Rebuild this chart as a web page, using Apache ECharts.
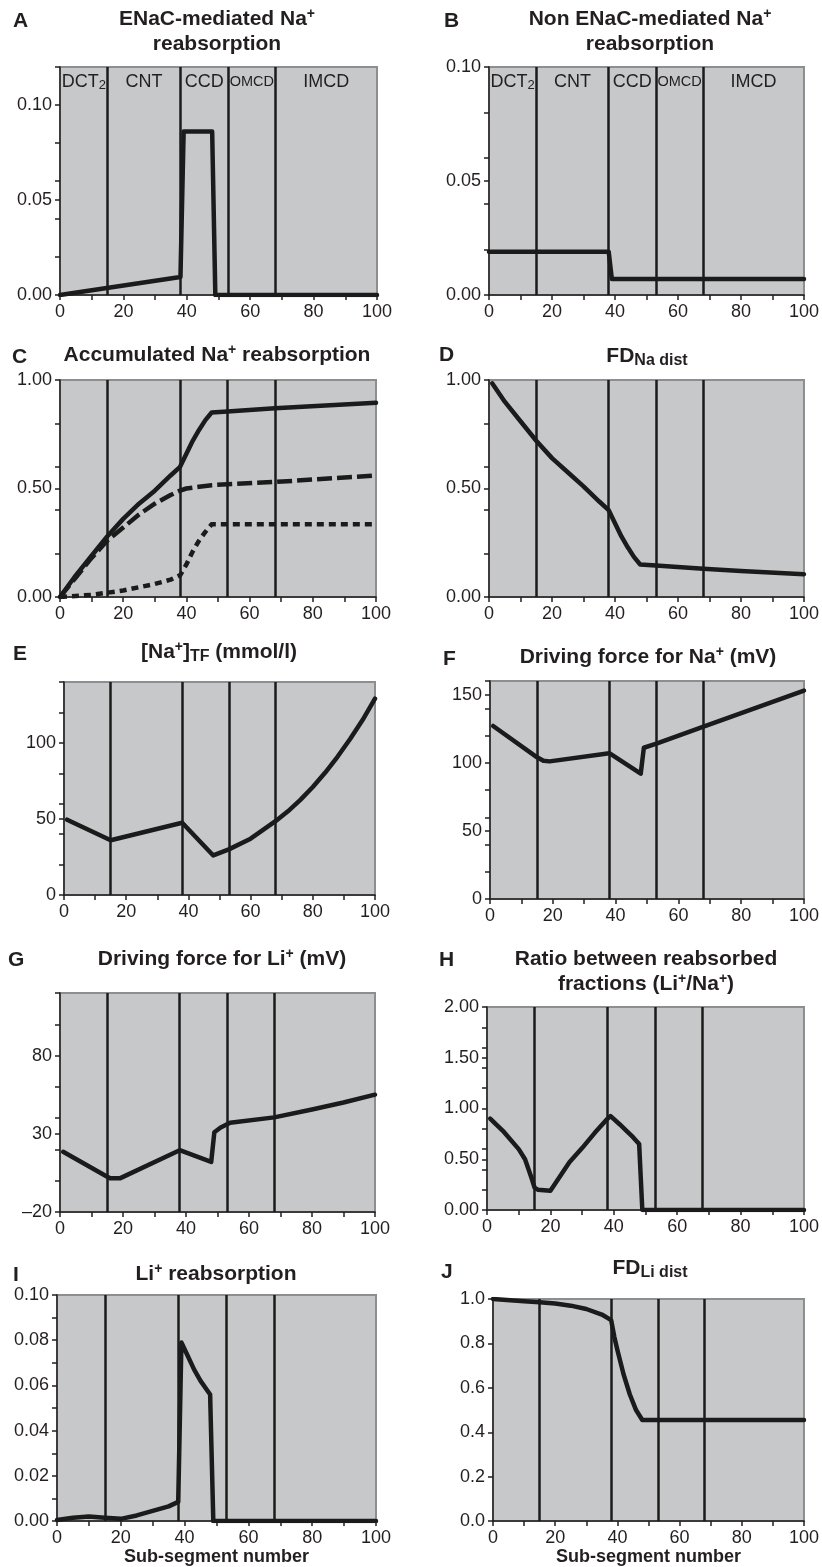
<!DOCTYPE html>
<html>
<head>
<meta charset="utf-8">
<title>Na+ and Li+ handling along the distal nephron</title>
<script src="https://cdn.jsdelivr.net/npm/echarts@6/dist/echarts.min.js"></script>
<style>
html,body{margin:0;padding:0;background:#fff;}
#J_Main{width:822px;height:1567px;}
</style>
</head>
<body>
<div id="J_Main"></div>
<script>
var FONT = "'Liberation Sans', Arial, Helvetica, sans-serif";
var INK = '#231f20';

// segment borders (sub-segment number) and segment names
var segmentBounds = [15, 38, 53, 68];
var segmentNames = ['DCT{s|2}', 'CNT', 'CCD', '{n|OMCD}', 'IMCD'];
var xTickValues = [0, 10, 20, 30, 40, 50, 60, 70, 80, 90, 100];
var xLabelValues = [0, 20, 40, 60, 80, 100];

// A - ENaC-mediated Na+ reabsorption
var enacNa = [[0, 0], [38, 0.0095], [39, 0.086], [48, 0.086], [49, 0], [100, 0]];
var aYLabels = [0, 0.05, 0.10];
var aYTicks = [0, 0.02, 0.04, 0.05, 0.06, 0.08, 0.10, 0.12];

// B - non ENaC-mediated Na+ reabsorption
var nonEnacNa = [[0, 0.019], [38, 0.019], [39, 0.007], [100, 0.007]];
var bYLabels = [0, 0.05, 0.10];
var bYTicks = [0, 0.02, 0.04, 0.05, 0.06, 0.08, 0.10];

// C - accumulated Na+ reabsorption (total, non ENaC, ENaC)
var accNaTotal = [[0, 0], [5, 0.10], [10, 0.19], [15, 0.28], [20, 0.36], [25, 0.43], [30, 0.49], [35, 0.56], [38, 0.60], [40, 0.66], [42, 0.72], [44, 0.77], [46, 0.815], [48, 0.85], [53, 0.855], [68, 0.87], [100, 0.895]];
var accNaNonEnac = [[0, 0], [5, 0.09], [10, 0.18], [15, 0.26], [20, 0.32], [25, 0.38], [30, 0.43], [35, 0.47], [38, 0.49], [40, 0.50], [44, 0.508], [48, 0.515], [53, 0.52], [68, 0.53], [100, 0.56]];
var accNaEnac = [[0, 0], [10, 0.01], [15, 0.02], [20, 0.03], [25, 0.045], [30, 0.06], [35, 0.08], [38, 0.10], [40, 0.15], [42, 0.21], [44, 0.26], [46, 0.30], [48, 0.335], [100, 0.335]];
var cYLabels = [0, 0.5, 1];
var cYTicks = [0, 0.2, 0.4, 0.5, 0.6, 0.8, 1];

// D - FD Na dist
var fdNaDist = [[1, 0.985], [5, 0.90], [10, 0.81], [15, 0.72], [20, 0.64], [25, 0.575], [30, 0.51], [35, 0.44], [38, 0.40], [40, 0.34], [42, 0.28], [44, 0.23], [46, 0.185], [48, 0.15], [53, 0.145], [68, 0.13], [80, 0.12], [100, 0.105]];
var dYLabels = [0, 0.5, 1];
var dYTicks = [0, 0.2, 0.4, 0.5, 0.6, 0.8, 1];

// E - [Na+] in tubular fluid (mmol/l)
var naTF = [[1, 49.5], [15, 36], [38, 47.5], [48, 26], [53, 30], [60, 37], [68, 48.5], [72, 55], [76, 62.5], [80, 71], [84, 80.5], [88, 91], [92, 102.5], [96, 115], [100, 129]];
var eYLabels = [0, 50, 100];
var eYTicks = [0, 20, 40, 50, 60, 80, 100, 120, 140];

// F - driving force for Na+ (mV)
var dfNa = [[1, 127], [15, 104], [17, 101.5], [19, 101], [38, 107], [48, 92], [49, 111], [53, 114], [68, 126.5], [100, 153]];
var fYLabels = [0, 50, 100, 150];
var fYTicks = [0, 20, 40, 50, 60, 80, 100, 120, 140, 150, 160];

// G - driving force for Li+ (mV)
var dfLi = [[1, 18.5], [15, 2.5], [16, 1.5], [19, 1.5], [38, 19.5], [48, 12], [49, 31], [51, 34], [54, 37], [68, 40.5], [80, 45.5], [90, 50], [100, 55]];
var gYLabels = [-20, 30, 80];
var gYTicks = [-20, 0, 20, 30, 40, 60, 80, 100, 120];

// H - ratio between reabsorbed fractions (Li+/Na+)
var liNaRatio = [[1, 0.90], [5, 0.78], [10, 0.60], [12, 0.50], [14, 0.32], [15, 0.22], [16, 0.20], [20, 0.19], [23, 0.33], [26, 0.47], [30, 0.61], [34, 0.76], [38, 0.90], [39, 0.925], [42, 0.84], [44, 0.78], [46, 0.72], [48, 0.65], [49, 0], [100, 0]];
var hYLabels = [0, 0.5, 1, 1.5, 2];
var hYTicks = [0, 0.2, 0.4, 0.5, 0.6, 0.8, 1, 1.2, 1.4, 1.5, 1.6, 1.8, 2];

// I - Li+ reabsorption
var liReab = [[0, 0.0005], [5, 0.0015], [10, 0.002], [15, 0.0015], [20, 0.001], [25, 0.0025], [30, 0.0045], [35, 0.0065], [38, 0.0085], [39, 0.079], [41, 0.073], [43, 0.067], [45, 0.062], [48, 0.056], [49, 0], [100, 0]];
var iYLabels = [0, 0.02, 0.04, 0.06, 0.08, 0.10];
var iYTicks = [0, 0.01, 0.02, 0.03, 0.04, 0.05, 0.06, 0.07, 0.08, 0.09, 0.10];

// J - FD Li dist
var fdLiDist = [[0, 1.0], [10, 0.99], [15, 0.985], [20, 0.98], [25, 0.97], [30, 0.955], [35, 0.93], [38, 0.905], [39, 0.83], [40, 0.77], [42, 0.66], [44, 0.57], [46, 0.50], [48, 0.455], [100, 0.455]];
var jYLabels = [0, 0.2, 0.4, 0.6, 0.8, 1];
var jYTicks = [0, 0.2, 0.4, 0.6, 0.8, 1];

var panels = [
    {tag: 'A', title: 'ENaC-mediated Na{sup|+}\nreabsorption', tx: 217, ty: 7, lx: 13, ly: 10, box: [60, 67, 317, 228], yRange: [0, 0.12], yLabels: aYLabels, yTicks: aYTicks, dec: 2, lines: [{data: enacNa}], named: true},
    {tag: 'B', title: 'Non ENaC-mediated Na{sup|+}\nreabsorption', tx: 650, ty: 7, lx: 444, ly: 10, box: [489, 67, 318, 228], yRange: [0, 0.10], yLabels: bYLabels, yTicks: bYTicks, dec: 2, lines: [{data: nonEnacNa}], named: true},
    {tag: 'C', title: 'Accumulated Na{sup|+} reabsorption', tx: 217, ty: 343, lx: 12, ly: 346, box: [60, 380, 316, 217], yRange: [0, 1], yLabels: cYLabels, yTicks: cYTicks, dec: 2, lines: [{data: accNaTotal}, {data: accNaNonEnac, dash: [15, 5]}, {data: accNaEnac, dash: [7, 5]}]},
    {tag: 'D', title: 'FD{sub|Na dist}', tx: 647, ty: 344, lx: 439, ly: 344, box: [489, 380, 316, 217], yRange: [0, 1], yLabels: dYLabels, yTicks: dYTicks, dec: 2, lines: [{data: fdNaDist}]},
    {tag: 'E', title: '[Na{sup|+}]{sub|TF} (mmol/l)', tx: 219, ty: 640, lx: 13, ly: 643, box: [64, 682, 311, 213], yRange: [0, 140], yLabels: eYLabels, yTicks: eYTicks, dec: 0, lines: [{data: naTF}]},
    {tag: 'F', title: 'Driving force for Na{sup|+} (mV)', tx: 648, ty: 645, lx: 443, ly: 648, box: [490, 681, 315, 218], yRange: [0, 160], yLabels: fYLabels, yTicks: fYTicks, dec: 0, lines: [{data: dfNa}]},
    {tag: 'G', title: 'Driving force for Li{sup|+} (mV)', tx: 222, ty: 947, lx: 8, ly: 949, box: [60, 993, 315, 219], yRange: [-20, 120], yLabels: gYLabels, yTicks: gYTicks, dec: 0, lines: [{data: dfLi}]},
    {tag: 'H', title: 'Ratio between reabsorbed\nfractions (Li{sup|+}/Na{sup|+})', tx: 646, ty: 947, lx: 439, ly: 949, box: [487, 1007, 319, 203], yRange: [0, 2], yLabels: hYLabels, yTicks: hYTicks, dec: 2, lines: [{data: liNaRatio}]},
    {tag: 'I', title: 'Li{sup|+} reabsorption', tx: 216, ty: 1262, lx: 13, ly: 1264, box: [57, 1295, 319, 228], yRange: [0, 0.1], yLabels: iYLabels, yTicks: iYTicks, dec: 2, lines: [{data: liReab}], xName: true},
    {tag: 'J', title: 'FD{sub|Li dist}', tx: 650, ty: 1256, lx: 441, ly: 1261, box: [493, 1299, 315, 224], yRange: [0, 1], yLabels: jYLabels, yTicks: jYTicks, dec: 1, lines: [{data: fdLiDist}], xName: true}
];

var titleRich = {
    sup: {fontSize: 14, fontWeight: 'bold', fontFamily: FONT, color: INK, lineHeight: 14, verticalAlign: 'top'},
    sub: {fontSize: 16, fontWeight: 'bold', fontFamily: FONT, color: INK, lineHeight: 8, verticalAlign: 'bottom'}
};

function segmentAreas() {
    var edges = [0].concat(segmentBounds, [100]);
    return segmentNames.map(function (name, k) {
        return [{name: name, xAxis: edges[k]}, {xAxis: edges[k + 1]}];
    });
}

function buildOption() {
    var grids = [], xAxes = [], yAxes = [], titles = [], series = [];
    panels.forEach(function (p, i) {
        grids.push({
            left: p.box[0], top: p.box[1], width: p.box[2], height: p.box[3],
            show: true, backgroundColor: '#c7c8ca', borderColor: '#8d8e90', borderWidth: 2
        });
        xAxes.push({
            type: 'value', gridIndex: i, min: 0, max: 100,
            axisLine: {show: true, onZero: false, lineStyle: {color: INK, width: 1.5}},
            axisTick: {show: true, length: 5, customValues: xTickValues, lineStyle: {color: INK, width: 1.5}},
            axisLabel: {customValues: xLabelValues, color: INK, fontSize: 18, fontFamily: FONT, margin: 8},
            splitLine: {show: false},
            name: p.xName ? 'Sub-segment number' : '',
            nameLocation: 'middle', nameGap: 25,
            nameTextStyle: {color: INK, fontSize: 18, fontWeight: 'bold', fontFamily: FONT}
        });
        yAxes.push({
            type: 'value', gridIndex: i, min: p.yRange[0], max: p.yRange[1],
            axisLine: {show: true, onZero: false, lineStyle: {color: INK, width: 1.5}},
            axisTick: {show: true, length: 5, customValues: p.yTicks, lineStyle: {color: INK, width: 1.5}},
            axisLabel: {
                customValues: p.yLabels, color: INK, fontSize: 18, fontFamily: FONT, margin: 8,
                formatter: (function (dec) {
                    return function (v) { return v.toFixed(dec).replace('-', '\u2013'); };
                })(p.dec)
            },
            splitLine: {show: false}
        });
        titles.push({
            text: p.title, left: p.tx, top: p.ty, textAlign: 'center', padding: 0,
            textStyle: {fontSize: 21, fontWeight: 'bold', fontFamily: FONT, color: INK, lineHeight: 25, rich: titleRich}
        });
        titles.push({
            text: p.tag, left: p.lx, top: p.ly, padding: 0,
            textStyle: {fontSize: 21, fontWeight: 'bold', fontFamily: FONT, color: INK, lineHeight: 22}
        });
        p.lines.forEach(function (ln, j) {
            var s = {
                type: 'line', xAxisIndex: i, yAxisIndex: i, data: ln.data,
                symbol: 'none', silent: true, animation: false, z: 3,
                lineStyle: {color: '#1b1b1b', width: 4.5, type: ln.dash || 'solid', cap: ln.dash ? 'butt' : 'round', join: 'round'}
            };
            if (j === 0) {
                s.markLine = {
                    silent: true, animation: false, symbol: ['none', 'none'],
                    label: {show: false},
                    lineStyle: {color: '#1b1b1b', width: 2.5, type: 'solid'},
                    data: segmentBounds.map(function (v) { return {xAxis: v}; })
                };
                if (p.named) {
                    s.markArea = {
                        silent: true, animation: false,
                        itemStyle: {color: 'rgba(0,0,0,0)'},
                        label: {
                            show: true, position: 'insideTop', distance: 5,
                            color: INK, fontSize: 18, fontFamily: FONT, lineHeight: 20,
                            formatter: function (pp) { return pp.name; },
                            rich: {
                                s: {fontSize: 13, fontFamily: FONT, color: INK, lineHeight: 4, verticalAlign: 'bottom'},
                                n: {fontSize: 14.5, fontFamily: FONT, color: INK, lineHeight: 20}
                            }
                        },
                        data: segmentAreas()
                    };
                }
            }
            series.push(s);
        });
    });
    return {
        backgroundColor: '#ffffff',
        animation: false,
        title: titles,
        grid: grids,
        xAxis: xAxes,
        yAxis: yAxes,
        series: series
    };
}

var viewContainer = document.getElementById('J_Main');
var myChart = echarts.init(viewContainer, null, {renderer: 'canvas'});
myChart.setOption(buildOption());
</script>
</body>
</html>
